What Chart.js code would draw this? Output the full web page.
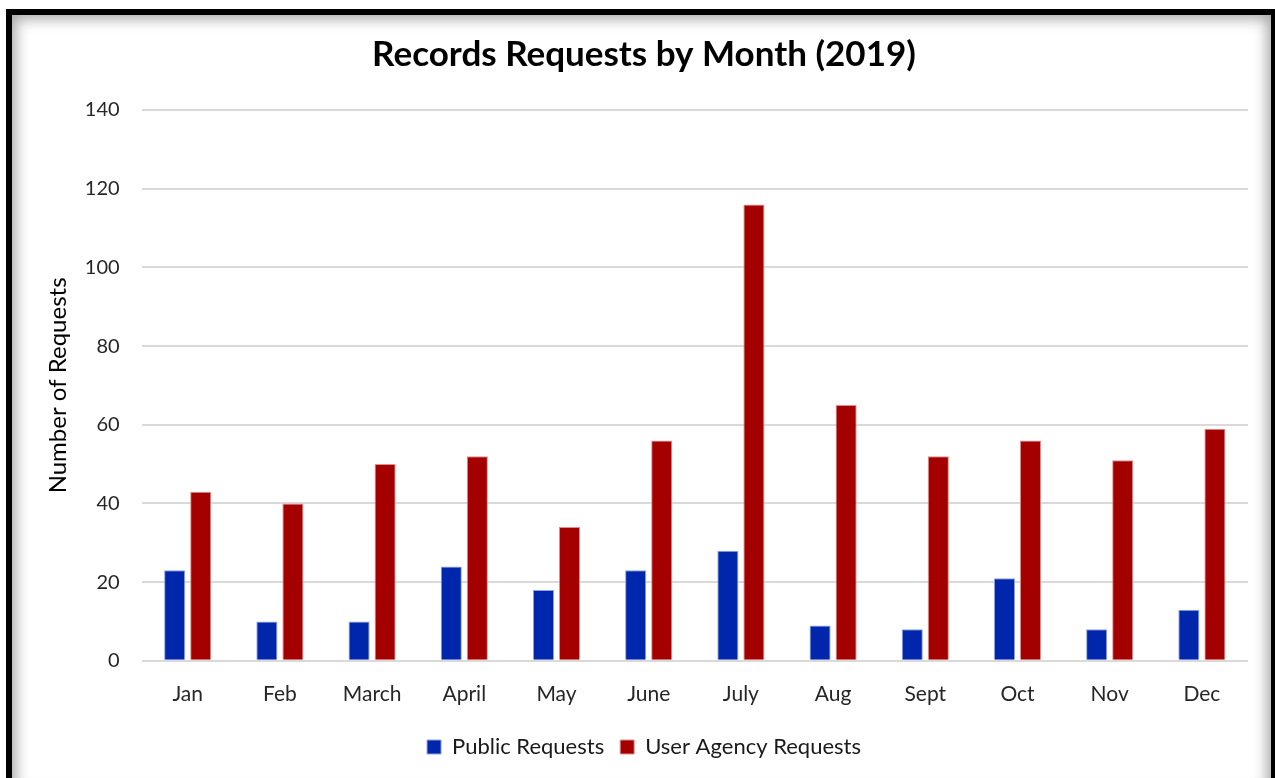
<!DOCTYPE html>
<html>
<head>
<meta charset="utf-8">
<script src="https://cdn.jsdelivr.net/npm/chart.js@4"></script>
<style>
    body { margin: 0; background: #fff; overflow: hidden; }
    #frame {
        position: absolute; left: 6px; top: 9px; width: 1259px; height: 780px;
        border: 6px solid #000; box-shadow: inset 0 0 14px 4px rgba(0,0,0,0.35);
        background: #fff;
    }
    #wrap { position: absolute; left: 0; top: 0; width: 1275px; height: 778px; }
</style>
</head>
<body>
<div id="frame"></div>
<div id="wrap"><canvas id="recordsChart"></canvas></div>
<script>
var months = ['Jan', 'Feb', 'March', 'April', 'May', 'June', 'July', 'Aug', 'Sept', 'Oct', 'Nov', 'Dec'];
var publicRequests = [23, 10, 10, 24, 18, 23, 28, 9, 8, 21, 8, 13];
var agencyRequests = [43, 40, 50, 52, 34, 56, 116, 65, 52, 56, 51, 59];

var fontFamily = "Lato, 'Open Sans', sans-serif";

var ctx = document.getElementById('recordsChart').getContext('2d');
var myChart = new Chart(ctx, {
    type: 'bar',
    data: {
        labels: months,
        datasets: [{
            label: 'Public Requests',
            data: publicRequests,
            backgroundColor: '#0026AB',
            borderColor: '#8fa0dd',
            borderWidth: 1,
            barPercentage: 0.81,
            categoryPercentage: 0.565
        }, {
            label: 'User Agency Requests',
            data: agencyRequests,
            backgroundColor: '#A50000',
            borderColor: '#dd9090',
            borderWidth: 1,
            barPercentage: 0.81,
            categoryPercentage: 0.565
        }]
    },
    options: {
        responsive: true,
        maintainAspectRatio: false,
        animation: false,
        layout: { padding: { left: 40, right: 27, top: 34, bottom: 10 } },
        plugins: {
            title: {
                display: true,
                text: 'Records Requests by Month (2019)',
                color: '#000',
                font: { family: fontFamily, size: 35, weight: 'bold' },
                padding: { top: 0, bottom: 34 }
            },
            legend: {
                position: 'bottom',
                labels: {
                    color: '#1a1a1a',
                    font: { family: fontFamily, size: 22 },
                    boxWidth: 14,
                    boxHeight: 14,
                    padding: 16
                }
            },
            tooltip: { enabled: false }
        },
        scales: {
            x: {
                grid: { display: false },
                border: { display: false },
                ticks: { color: '#262626', font: { family: fontFamily, size: 21 }, padding: 13 }
            },
            y: {
                min: 0,
                max: 140,
                ticks: { stepSize: 20, color: '#262626', font: { family: fontFamily, size: 20 }, padding: 22 },
                grid: { color: '#d9d9d9', lineWidth: 2, drawTicks: false },
                border: { display: false },
                title: {
                    display: true,
                    text: 'Number of Requests',
                    color: '#000',
                    font: { family: fontFamily, size: 24 },
                    padding: { top: 4, bottom: -10 }
                }
            }
        }
    }
});
</script>
</body>
</html>
